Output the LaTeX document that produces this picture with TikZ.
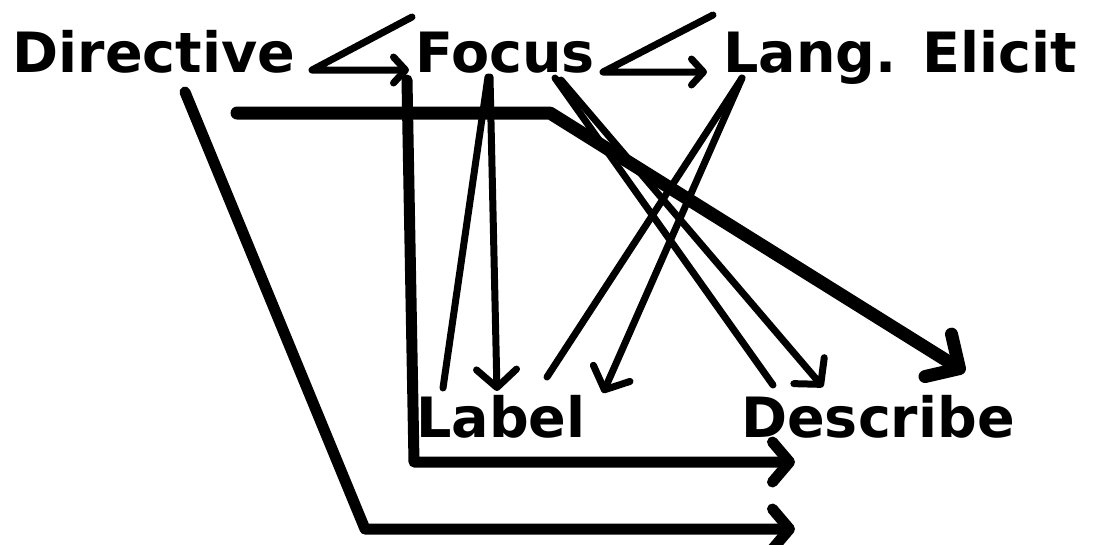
\documentclass[tikz,border=0pt]{standalone}
\usepackage{fontspec}
\setmainfont{DejaVu Sans}
\usetikzlibrary{arrows.meta,calc}
\tikzset{
  word/.style={font=\bfseries\fontsize{15.8}{18}\selectfont,inner sep=0pt,anchor=base},
  flow/.style={line width=0.7mm,line cap=round,line join=round},
  bar/.style={line width=1.1mm,line cap=round,line join=round},
  hooktip/.style={-{Straight Barb[length=1.2mm,width=2.6mm,round]}},
  thinhead/.style={-{Straight Barb[length=1.8mm,width=4mm,round]}},
  bighead/.style={-{Straight Barb[length=1.7mm,width=4mm,round]}},
}
\begin{document}
\begin{tikzpicture}[x=0.1mm,y=-0.1mm]
  \useasboundingbox (0,0) rectangle (1095,544);
  % labels
  \node[word] (dir) at (154,72) {Directive};
  \node[word] (foc) at (505,72) {Focus};
  \node[word] (lang) at (900,72) {Lang. Elicit};
  \node[word] (lab) at (501,437) {Label};
  \node[word] (desc) at (878,437) {Describe};
  % top row
  \draw[flow,hooktip] ($(foc.base)+(-93,-55)$) -- ($(dir.base)+(158,-2)$) -- ($(foc.base)+(-96,-2)$);
  \draw[flow,hooktip] ($(lang.base)+(-187,-57)$) -- ($(foc.base)+(98,0)$) -- ($(lang.base)+(-193,0)$);
  % down to Label and Describe
  \draw[flow] ($(foc.base)+(-17,5)$) -- ($(lab.base)+(-58,-49)$);
  \draw[flow,thinhead] ($(foc.base)+(-15,5)$) -- ($(lab.base)+(-4,-46)$);
  \draw[flow] ($(lang.base)+(-158,6)$) -- ($(lab.base)+(46,-60)$);
  \draw[flow,thinhead] ($(lang.base)+(-158,6)$) -- ($(lab.base)+(102,-44)$);
  \draw[flow] ($(foc.base)+(50,6)$) -- ($(desc.base)+(-105,-52)$);
  \draw[flow,thinhead] ($(foc.base)+(56,8)$) -- ($(desc.base)+(-55,-50)$);
  % thick bars
  \coordinate (start) at (237,113);
  \coordinate (knee) at (550,113);
  \draw[bar,line width=1.3mm,-{Straight Barb[length=2.5mm,width=5mm,round]}] (start) -- (knee) -- ($(desc.base)+(87,-65)$);
  \coordinate (corner1) at (414,462);
  \coordinate (end1) at (795,462);
  \draw[bar,bighead] ($(foc.base)+(-98,8)$) -- (corner1) -- (end1);
  \coordinate (corner2) at (365,529);
  \coordinate (end2) at (795,529);
  \draw[bar,bighead] ($(dir.base)+(31,20)$) -- (corner2) -- (end2);
\end{tikzpicture}
\end{document}
